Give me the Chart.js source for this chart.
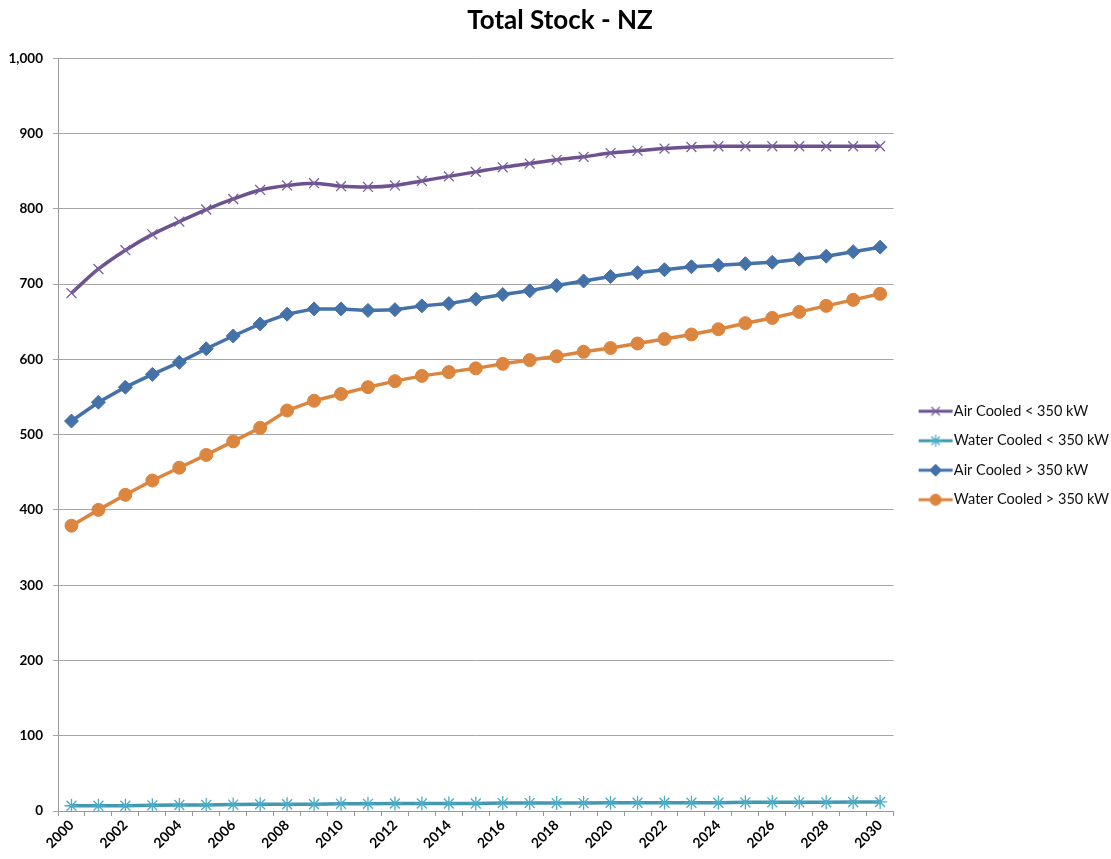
<!DOCTYPE html>
<html>
<head>
<meta charset="utf-8">
<script src="https://cdn.jsdelivr.net/npm/chart.js@4.4.1/dist/chart.umd.min.js"></script>
<style>
  html, body { margin: 0; padding: 0; background: #fff; }
  #wrap { width: 1111px; height: 859px; }
</style>
</head>
<body>
<div id="wrap"><canvas id="stock-chart"></canvas></div>
<script>
const years = ['2000', '2001', '2002', '2003', '2004', '2005', '2006', '2007', '2008', '2009', '2010',
    '2011', '2012', '2013', '2014', '2015', '2016', '2017', '2018', '2019', '2020',
    '2021', '2022', '2023', '2024', '2025', '2026', '2027', '2028', '2029', '2030'];

const airSmall = [688, 720, 745, 766, 783, 799, 813, 825, 831, 834, 830,
    829, 831, 837, 843, 849, 855, 860, 865, 869, 874,
    877, 880, 882, 883, 883, 883, 883, 883, 883, 883];
const waterSmall = [7, 7, 7, 7.5, 8, 8, 8.5, 9, 9, 9, 9.5,
    9.5, 10, 10, 10, 10, 10.5, 10.5, 10.5, 10.5, 11,
    11, 11, 11, 11, 11.5, 11.5, 11.5, 11.5, 12, 12];
const airLarge = [518, 543, 563, 580, 596, 614, 631, 647, 660, 667, 667,
    665, 666, 671, 674, 680, 686, 691, 698, 704, 710,
    715, 719, 723, 725, 727, 729, 733, 737, 743, 749];
const waterLarge = [379, 400, 420, 439, 456, 473, 491, 509, 532, 545, 554,
    563, 571, 578, 583, 588, 594, 599, 604, 610, 615,
    621, 627, 633, 640, 648, 655, 663, 671, 679, 687];

const seriesNames = ['Air Cooled < 350 kW', 'Water Cooled < 350 kW', 'Air Cooled > 350 kW', 'Water Cooled > 350 kW'];
const yTicks = [0, 100, 200, 300, 400, 500, 600, 700, 800, 900, 1000];

const FONT = 'Lato, "Open Sans", sans-serif';

const styles = [
    { line: '#6e5290', point: '#7a5fa0', pointStyle: 'crossRot', radius: 7, pointBorder: 1.3 },
    { line: '#4198af', point: '#4bacc6', pointStyle: 'star', radius: 7, pointBorder: 1.3 },
    { line: '#4471a8', point: '#4471a8', pointStyle: 'rectRot', radius: 7, pointBorder: 1 },
    { line: '#dc853e', point: '#dc853e', pointStyle: 'circle', radius: 6.5, pointBorder: 1 },
];

// line + marker pictures for the legend (drawn centred on the legend box)
function legendIcon(s) {
    const c = document.createElement('canvas');
    c.width = 54;
    c.height = 16;
    const g = c.getContext('2d');
    g.strokeStyle = s.line;
    g.lineWidth = 3;
    g.beginPath();
    g.moveTo(18, 8);
    g.lineTo(52, 8);
    g.stroke();
    g.strokeStyle = s.point;
    g.fillStyle = s.point;
    g.lineWidth = s.pointBorder;
    Chart.helpers.drawPoint(g, { pointStyle: s.pointStyle, radius: s.radius * 0.85, borderWidth: s.pointBorder, rotation: 0 }, 35, 8);
    return c;
}
const icons = styles.map(legendIcon);

const values = [airSmall, waterSmall, airLarge, waterLarge];

const ctx = document.getElementById('stock-chart').getContext('2d');
const chart = new Chart(ctx, {
    type: 'line',
    data: {
        labels: years,
        datasets: values.map((v, i) => ({
            label: seriesNames[i],
            data: v,
            borderColor: styles[i].line,
            backgroundColor: styles[i].point,
            borderWidth: 3.5,
            tension: i === 0 ? 0.4 : 0,
            cubicInterpolationMode: i === 0 ? 'monotone' : 'default',
            pointStyle: styles[i].pointStyle,
            pointRadius: styles[i].radius,
            pointBorderColor: styles[i].point,
            pointBackgroundColor: styles[i].point,
            pointBorderWidth: styles[i].pointBorder,
        })),
    },
    options: {
        responsive: true,
        maintainAspectRatio: false,
        animation: false,
        layout: { padding: { left: 1, right: -8 } },
        plugins: {
            title: {
                display: true,
                text: 'Total Stock - NZ',
                color: '#000',
                font: { family: FONT, size: 26, weight: 'bold' },
                padding: { top: 5, bottom: 22 },
            },
            legend: {
                position: 'right',
                title: { display: true, text: ' ', font: { size: 10 }, padding: { top: 20, bottom: 20 } },
                labels: {
                    usePointStyle: true,
                    pointStyleWidth: 38,
                    boxHeight: 16,
                    padding: 15,
                    color: '#111',
                    font: { family: FONT, size: 14.5 },
                    generateLabels: (c) => Chart.defaults.plugins.legend.labels.generateLabels(c)
                        .map((item, i) => Object.assign(item, { pointStyle: icons[i] })),
                },
            },
            tooltip: { enabled: false },
        },
        scales: {
            x: {
                offset: true,
                afterFit: (s) => { s.height = 48; },
                grid: { offset: true, drawOnChartArea: false, tickLength: 5, color: '#999' },
                border: { color: '#999' },
                ticks: {
                    autoSkip: false,
                    minRotation: 45,
                    maxRotation: 45,
                    padding: 1,
                    color: '#000',
                    font: { family: FONT, size: 14, weight: 'bold' },
                    callback: function (val, idx) { return idx % 2 === 0 ? this.getLabelForValue(val) : ''; },
                },
            },
            y: {
                min: 0,
                max: 1000,
                afterFit: (s) => { s.width = 57; },
                afterBuildTicks: (s) => { s.ticks = yTicks.map(v => ({ value: v })); },
                grid: { color: '#a6a6a6', tickLength: 5 },
                border: { color: '#999' },
                ticks: {
                    padding: 10,
                    color: '#000',
                    font: { family: FONT, size: 13.5, weight: 'bold' },
                    callback: (v) => v.toLocaleString('en-US'),
                },
            },
        },
    },
});
</script>
</body>
</html>
